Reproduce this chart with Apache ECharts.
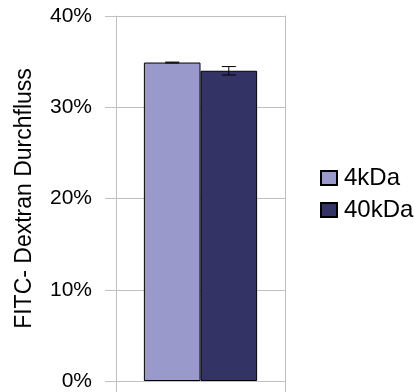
<!DOCTYPE html>
<html>
<head>
<meta charset="utf-8">
<script src="https://cdn.jsdelivr.net/npm/echarts@6/dist/echarts.min.js"></script>
<style>
  html, body { margin: 0; padding: 0; background: #fff; }
  #chart { width: 414px; height: 392px; }
</style>
</head>
<body>
<div id="chart"></div>
<script>
var categories = [''];
var seriesNames = ['4kDa', '40kDa'];
var values4k = [0.349];
var values40k = [0.340];
var err4k = [0.0005];
var err40k = [0.0046];

var myChart = echarts.init(document.getElementById('chart'));
var font = '"Liberation Sans", Arial, sans-serif';
var gray = '#c0c0c0';
var barGapPct = 0.33;

// error bars drawn next to each bar
function errorBar(seriesIdx) {
	return function (params, api) {
		var cat = api.value(0);
		var v = api.value(1);
		var e = api.value(2);
		var band = api.size([1, 0])[0];
		var bw = band * (1 - barGapPct) / 2;
		var cx = api.coord([cat, v])[0] + (seriesIdx - 0.5) * bw;
		var top = api.coord([cat, v + e])[1];
		var bot = api.coord([cat, v - e])[1];
		var half = 7;
		var st = { stroke: '#000', lineWidth: 1 };
		return {
			type: 'group',
			children: [
				{ type: 'line', shape: { x1: cx, y1: top, x2: cx, y2: bot }, style: st },
				{ type: 'line', shape: { x1: cx - half, y1: top, x2: cx + half, y2: top }, style: st },
				{ type: 'line', shape: { x1: cx - half, y1: bot, x2: cx + half, y2: bot }, style: st }
			]
		};
	};
}

var option = {
	backgroundColor: '#fff',
	animation: false,
	textStyle: { fontFamily: font },
	grid: { left: 116, right: 129, top: 16, bottom: 11 },
	legend: {
		orient: 'vertical',
		left: 315,
		top: 161,
		icon: 'rect',
		itemWidth: 16,
		itemHeight: 14,
		itemGap: 8,
		data: seriesNames,
		textStyle: { fontSize: 24, color: '#000', fontFamily: font, padding: [0, 0, 0, 2] }
	},
	xAxis: {
		type: 'category',
		data: categories,
		axisLine: { lineStyle: { color: gray } },
		axisTick: { show: true, length: 11, lineStyle: { color: gray } },
		axisLabel: { show: false }
	},
	yAxis: [{
		type: 'value',
		min: 0,
		max: 0.4,
		interval: 0.1,
		name: 'FITC- Dextran Durchfluss',
		nameLocation: 'middle',
		nameGap: 80,
		nameTextStyle: { fontSize: 23, color: '#000', fontFamily: font },
		axisLine: { show: true, lineStyle: { color: gray } },
		axisTick: { show: true, length: 11, lineStyle: { color: gray } },
		splitLine: { lineStyle: { color: gray } },
		axisLabel: {
			margin: 24,
			fontSize: 21,
			color: '#000',
			fontFamily: font,
			formatter: function (v) { return Math.round(v * 100) + '%'; }
		}
	}, {
		type: 'value',
		position: 'right',
		min: 0,
		max: 0.4,
		interval: 0.1,
		axisLine: { show: true, lineStyle: { color: gray } },
		axisTick: { show: false },
		splitLine: { show: false },
		axisLabel: { show: false }
	}],
	series: [
		{
			name: seriesNames[0],
			type: 'bar',
			data: values4k,
			barGap: '0%',
			barCategoryGap: (barGapPct * 100) + '%',
			itemStyle: { color: '#9999cc', borderColor: '#000', borderWidth: 1 }
		},
		{
			name: seriesNames[1],
			type: 'bar',
			data: values40k,
			barGap: '0%',
			barCategoryGap: (barGapPct * 100) + '%',
			itemStyle: { color: '#333366', borderColor: '#000', borderWidth: 1 }
		},
		{
			type: 'custom',
			renderItem: errorBar(0),
			data: [[0, values4k[0], err4k[0]]],
			z: 10,
			silent: true
		},
		{
			type: 'custom',
			renderItem: errorBar(1),
			data: [[0, values40k[0], err40k[0]]],
			z: 10,
			silent: true
		}
	]
};

myChart.setOption(option);
</script>
</body>
</html>
